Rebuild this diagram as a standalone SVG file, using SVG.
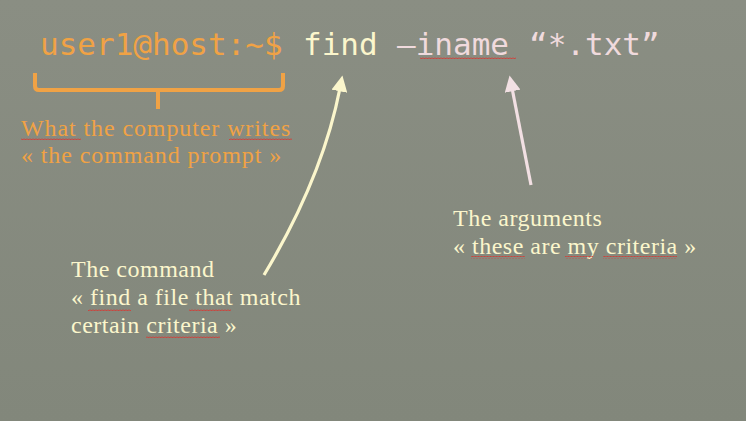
<svg xmlns="http://www.w3.org/2000/svg" width="746" height="421" viewBox="0 0 746 421">
<defs>
<linearGradient id="bg" x1="0" y1="0" x2="0" y2="1">
<stop offset="0" stop-color="#8a8e83"/>
<stop offset="1" stop-color="#82877b"/>
</linearGradient>
<marker id="hc" viewBox="0 0 10 10" refX="2" refY="5" markerWidth="5" markerHeight="5" orient="auto" markerUnits="strokeWidth">
<path d="M0,0 L10,5 L0,10 Z" fill="#fbf6cc"/>
</marker>
<marker id="hp" viewBox="0 0 10 10" refX="2" refY="5" markerWidth="5" markerHeight="5" orient="auto" markerUnits="strokeWidth">
<path d="M0,0 L10,5 L0,10 Z" fill="#f2e0e3"/>
</marker>
<pattern id="wave" patternUnits="userSpaceOnUse" width="3" height="3">
<path d="M0,0.5 L1.5,2 L3,0.5" fill="none" stroke="#e0302a" stroke-width="1"/>
</pattern>
</defs>
<style>
.mono{font-family:"DejaVu Sans Mono","Liberation Mono",monospace;font-size:31px}
.ser{font-family:"Liberation Serif","DejaVu Serif",serif;font-size:24px;letter-spacing:0.9px}
.tight{letter-spacing:0.5px}
.org{fill:#f0a245}
.crm{fill:#fbf6cc}
.pnk{fill:#f0dadd}
.sq{fill:url(#wave)}
</style>
<rect width="746" height="421" fill="url(#bg)"/>
<g id="command-line" class="mono">
<text x="40" y="55" class="org">user1@host:~$</text>
<text x="303" y="55" class="crm">find</text>
<text x="397" y="55" class="pnk">–iname</text>
<text x="529" y="55" class="pnk">“*.txt”</text>
</g>
<g id="prompt-brace">
<path d="M35,73 V86 Q35,90 39,90 H279 Q283,90 283,86 V73 M158,90 V109" fill="none" stroke="#f0a245" stroke-width="4" stroke-linejoin="round"/>
</g>
<g id="prompt-label" class="ser org">
<text x="21" y="136">What the computer writes</text>
<text x="21" y="163">« the command prompt »</text>
</g>
<g id="command-label" class="ser crm tight">
<text x="71" y="277">The command</text>
<text x="71" y="305">« find a file that match</text>
<text x="71" y="333">certain criteria »</text>
</g>
<g id="arguments-label" class="ser crm tight">
<text x="453" y="226">The arguments</text>
<text x="453" y="254">« these are my criteria »</text>
</g>
<g id="connectors" fill="none">
<path d="M264,275 C300,215 328,150 340,88" stroke="#fbf6cc" stroke-width="3.2" marker-end="url(#hc)"/>
<path d="M531,185 L512,88" stroke="#f2e0e3" stroke-width="3.2" marker-end="url(#hp)"/>
</g>
<g id="spellcheck">
<rect class="sq" x="420" y="57" width="96" height="3"/>
<rect class="sq" x="21" y="138" width="60" height="3"/>
<rect class="sq" x="229" y="138" width="63" height="3"/>
<rect class="sq" x="88" y="308" width="43" height="3"/>
<rect class="sq" x="189" y="308" width="42" height="3"/>
<rect class="sq" x="146" y="336" width="74" height="3"/>
<rect class="sq" x="471" y="256" width="54" height="3"/>
<rect class="sq" x="565" y="256" width="28" height="3"/>
<rect class="sq" x="603" y="256" width="74" height="3"/>
</g>
</svg>
